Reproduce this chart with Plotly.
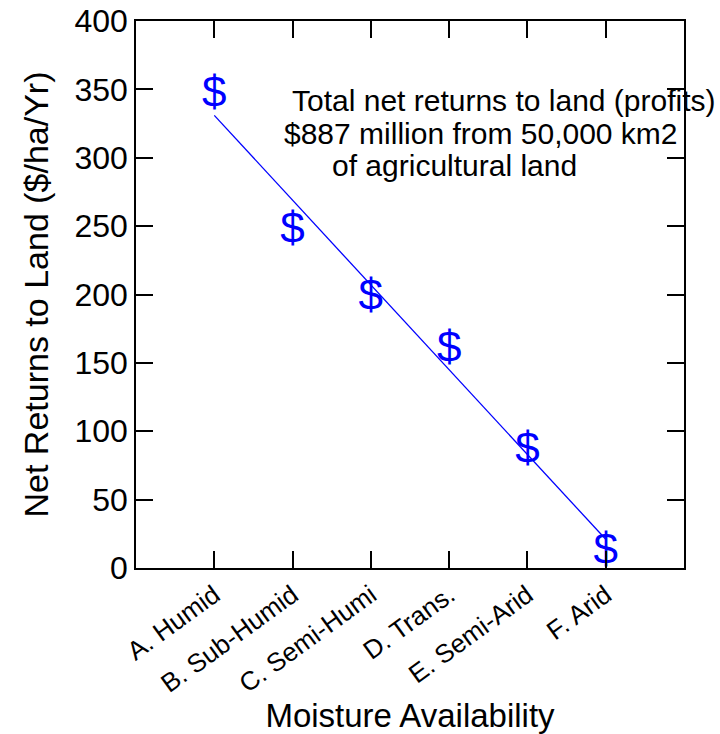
import plotly.graph_objects as go

categories = ["A. Humid", "B. Sub-Humid", "C. Semi-Humi", "D. Trans.", "E. Semi-Arid", "F. Arid"]
cat_pos = [1, 2, 3, 4, 5, 6]
net_returns = [345, 246, 197, 159, 85, 11]
fit_x = [1, 6]
fit_y = [331, 21]
y_ticks = [0, 50, 100, 150, 200, 250, 300, 350, 400]

FONT = "Liberation Sans, Arial, sans-serif"
BLUE = "#0000FF"

fig = go.Figure()
fig.add_trace(go.Scatter(x=fit_x, y=fit_y, mode="lines",
                         line=dict(color=BLUE, width=1.3), showlegend=False, hoverinfo="skip"))
fig.add_trace(go.Scatter(x=cat_pos, y=net_returns, mode="text", text=["$"] * len(cat_pos),
                         textposition="middle center",
                         textfont=dict(family=FONT, size=44, color=BLUE), showlegend=False))

axis_common = dict(showline=True, linecolor="black", linewidth=1.5, mirror="ticks",
                   ticks="inside", ticklen=17, tickwidth=1.5, tickcolor="black",
                   showgrid=False, zeroline=False, automargin=False,
                   ticklabeloverflow="allow")

fig.update_xaxes(range=[0, 7], tickvals=cat_pos, ticktext=categories, tickangle=-36,
                 tickfont=dict(family=FONT, size=26, color="black"),
                 title=dict(text="Moisture Availability", font=dict(family=FONT, size=33, color="black"),
                            standoff=20),
                 **axis_common)
fig.update_yaxes(range=[0, 400], tickvals=y_ticks,
                 tickfont=dict(family=FONT, size=32, color="black"),
                 title=dict(text="Net Returns to Land ($/ha/Yr)", font=dict(family=FONT, size=34, color="black"),
                            standoff=16),
                 **axis_common)

notes = ["Total net returns to land (profits)", "$887 million from 50,000 km2", "of agricultural land"]
note_x = [290, 282, 330]
note_y = [100, 133, 165]
for t, xx, yy in zip(notes, note_x, note_y):
    fig.add_annotation(text=t, xref="paper", yref="paper",
                       x=(xx - 136) / 548, y=(568 - yy) / 547,
                       xanchor="left", yanchor="middle", showarrow=False,
                       font=dict(family=FONT, size=30, color="black"))

fig.update_layout(width=720, height=734, margin=dict(l=136, r=36, t=21, b=166),
                  plot_bgcolor="white", paper_bgcolor="white")

fig.write_html("out.html", config={"displayModeBar": False},
               post_script="document.body.style.margin='0';")
